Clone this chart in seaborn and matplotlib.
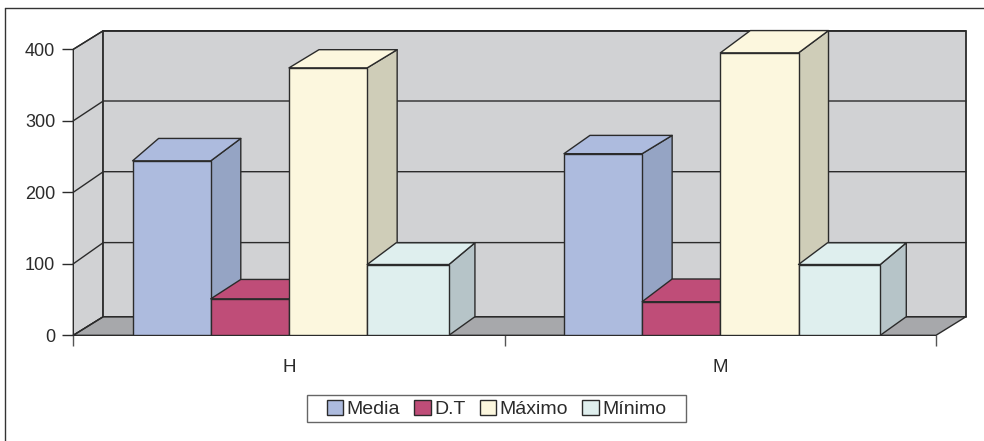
import matplotlib
matplotlib.use("Agg")
import matplotlib.pyplot as plt
from matplotlib.lines import Line2D
from matplotlib.patches import Polygon, Rectangle
import pandas as pd
import seaborn as sns

# Values per group and measure
groups = ["H", "M"]
measures = ["Media", "D.T", "Máximo", "Mínimo"]
media = [244, 254]
desv_tipica = [51, 47]
maximo = [374, 395]
minimo = [99, 99]
y_ticks = [0, 100, 200, 300, 400]

# Colours
front_colors = ["#ADBBDE", "#BF4D78", "#FCF7DE", "#DFEFEE"]
side_colors = ["#95A4C4", "#A8446A", "#CFCDB8", "#B6C4C8"]
wall_color = "#D1D2D4"
floor_color = "#A7A8AB"
line_color = "#2B2B2B"

# Fake-3D depth, all in pixels
wall_dx, wall_dy = 30.0, 18.6
grid_rise = [18.6, 21.2, 20.6, 19.8, 18.6]
top_dx_left = [26, 30, 30, 29]
top_dx_right = [30, 30, 30, 26]
top_rise = [[22.4, 19.4, 18.2, 21.7], [18.3, 22.7, 22.3, 21.7]]
base_rise = 18.6
last_bar_stretch = 1.046

sns.set_style("white")
plt.rcParams["font.family"] = ["Liberation Sans", "DejaVu Sans"]

W, H = 984, 441
fig = plt.figure(figsize=(W / 100, H / 100), dpi=100)
ax = fig.add_axes([73.3 / W, 1 - 335.3 / H, (936 - 73.3) / W, 286 / H])
px_x = (936 - 73.3) / 2.0        # pixels per category
px_y = 286 / 400.0               # pixels per value unit
DX = lambda p: p / px_x
DY = lambda p: p / px_y

df = pd.DataFrame({
    "grupo": groups * 4,
    "medida": [m for m in measures for _ in groups],
    "valor": media + desv_tipica + maximo + minimo,
})
sns.barplot(data=df, x="grupo", y="valor", hue="medida", order=groups,
            hue_order=measures, palette=front_colors, width=0.725, gap=0,
            saturation=1, edgecolor=line_color, linewidth=1.0, ax=ax)

ax.set_xlim(-0.5, 1.5)
ax.set_ylim(0, 400)
for s in ax.spines.values():
    s.set_visible(False)
ax.patch.set_visible(False)
ax.set_xlabel("")
ax.set_ylabel("")


def poly(pts, face, z, lw=1.0, edge=line_color):
    ax.add_patch(Polygon(pts, closed=True, facecolor=face, edgecolor=edge,
                         linewidth=lw, zorder=z, clip_on=False, joinstyle="round"))


# Walls and floor
x0, x1 = -0.5, 1.5
bdx, bdy = DX(wall_dx), DY(wall_dy)
poly([(x0, 0), (x0 + bdx, bdy), (x0 + bdx, 400 + bdy), (x0, 400)], wall_color, 1.0)
poly([(x0 + bdx, bdy), (x1 + bdx, bdy), (x1 + bdx, 400 + bdy), (x0 + bdx, 400 + bdy)],
     wall_color, 1.1, lw=1.3)
poly([(x0, 0), (x1, 0), (x1 + bdx, bdy), (x0 + bdx, bdy)], floor_color, 1.2)
for t, rise in zip(y_ticks, grid_rise):
    r = DY(rise)
    ax.plot([x0, x0 + bdx, x1 + bdx], [t, t + r, t + r], color=line_color,
            lw=1.0, zorder=1.3, clip_on=False, solid_joinstyle="miter")

# Bars, painted left to right so that each one covers the neighbour's side face
z = 3.0
for g in range(len(groups)):
    for m, cont in enumerate(ax.containers):
        bar = cont.patches[g]
        if m == len(measures) - 1:
            bar.set_width(bar.get_width() * last_bar_stretch)
        xl, xr = bar.get_x(), bar.get_x() + bar.get_width()
        h = bar.get_height()
        rise = DY(top_rise[g][m])
        dl, dr = DX(top_dx_left[m]), DX(top_dx_right[m])
        poly([(xr, 0), (xr + dr, DY(base_rise)), (xr + dr, h + rise), (xr, h)],
             side_colors[m], z)
        poly([(xl, h), (xr, h), (xr + dr, h + rise), (xl + dl, h + rise)],
             front_colors[m], z + 0.1)
        bar.set_zorder(z + 0.2)
        z += 1

# Axis ticks and labels
ax.set_yticks(y_ticks)
ax.set_xticks([-0.5, 0.5, 1.5], labels=["", "", ""])
ax.set_xticks([0, 1], labels=groups, minor=True)
ax.tick_params(axis="y", which="major", left=True, length=8, width=1.0, color=line_color,
               pad=5, labelsize=13, labelcolor="#2B2B2B")
ax.tick_params(axis="x", which="major", bottom=True, length=8, width=1.0, color="#555555")
ax.tick_params(axis="x", which="minor", bottom=False, length=0, pad=17,
               labelsize=13.5, labelcolor="#2B2B2B")

# Legend below the plot, on its own white box
fig.add_artist(Rectangle((306.7 / W, 1 - 422.3 / H), 379 / W, 27 / H,
                         transform=fig.transFigure, facecolor="white",
                         edgecolor="#666666", linewidth=1.0, zorder=-1))
handles, labels = ax.get_legend_handles_labels()
ax.legend(handles, labels, ncols=4, loc="center", frameon=False,
          bbox_to_anchor=(496.5 / W, 1 - 408.8 / H), bbox_transform=fig.transFigure,
          fontsize=14, handlelength=0.85, handleheight=0.85, handletextpad=0.18,
          columnspacing=0.72, borderpad=0.2, labelcolor="#2B2B2B")

# Frame: top and left rules only
fig.add_artist(Line2D([4.5 / W, 1], [1 - 8 / H, 1 - 8 / H], color="#333333", lw=1.0))
fig.add_artist(Line2D([4.5 / W, 4.5 / W], [1 - 8 / H, 0], color="#333333", lw=1.0))

fig.savefig("out.png", dpi=100)
